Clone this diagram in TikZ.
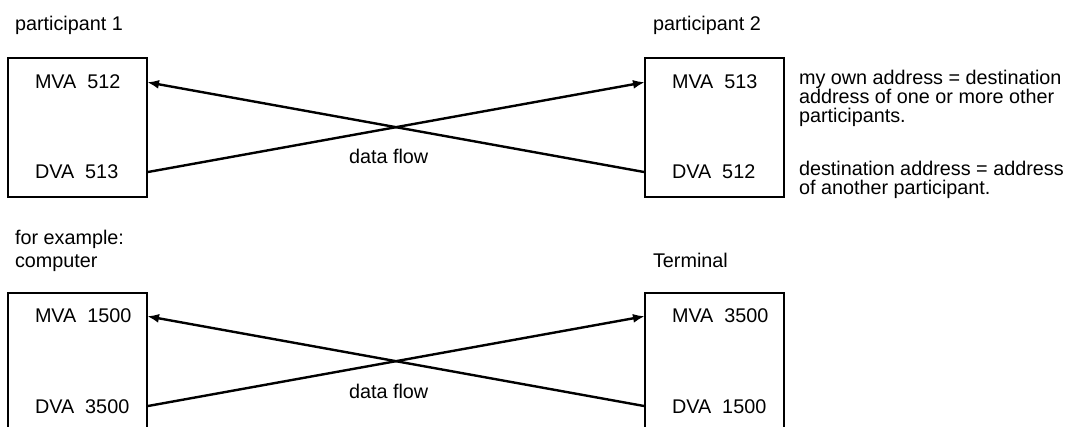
\documentclass[tikz,border=0pt]{standalone}
\usepackage{fontspec}
\setmainfont{Liberation Sans}
\usetikzlibrary{arrows.meta}
\begin{document}
\begin{tikzpicture}[x=1pt,y=-1pt,
  every node/.style={inner sep=0pt, outer sep=0pt, font=\fontsize{19.8}{19}\selectfont},
  box/.style={draw, line width=2.5pt, minimum width=139pt, minimum height=139pt},
  lbl/.style={anchor=base west},
  flow/.style={line width=2.4pt},
  arr/.style={flow, -{Latex[length=12pt,width=9pt]}}]
\clip (0,0) rectangle (1070,427);
\fill[white] (0,0) rectangle (1070,427);
% top row
\node[lbl] (t1) at (15,31) {participant 1};
\node[lbl] (t2) at (653,31) {participant 2};
\node[box] (b1) at (77.5,127.5) {};
\node[box] (b2) at (714.5,127.5) {};
\node[lbl] (m1) at (35,89) {MVA~~512};
\node[lbl] (d1) at (35,179) {DVA~~513};
\node[lbl] (m2) at (672,89) {MVA~~513};
\node[lbl] (d2) at (672,179) {DVA~~512};
\node[lbl] (f1) at (349,164) {data flow};
\draw[arr] (b2.west |- d2.center) -- (b1.east |- m1.center);
\draw[arr] (b1.east |- d1.center) -- (b2.west |- m2.center);
% notes
\node[lbl] (n1) at (799,85) {my own address = destination};
\node[lbl] (n2) at (799,104) {address of one or more other};
\node[lbl] (n3) at (799,123) {participants.};
\node[lbl] (n4) at (799,176) {destination address = address};
\node[lbl] (n5) at (799,195) {of another participant.};
% bottom row
\node[lbl] (t3) at (15,245) {for example:};
\node[lbl] (t4) at (15,268) {computer};
\node[lbl] (t5) at (653,268) {Terminal};
\node[box] (b3) at (77.5,362.5) {};
\node[box] (b4) at (714.5,362.5) {};
\node[lbl] (m3) at (35,323) {MVA~~1500};
\node[lbl] (d3) at (35,413) {DVA~~3500};
\node[lbl] (m4) at (672,323) {MVA~~3500};
\node[lbl] (d4) at (672,413) {DVA~~1500};
\node[lbl] (f2) at (349,398) {data flow};
\draw[arr] (b4.west |- d4.center) -- (b3.east |- m3.center);
\draw[arr] (b3.east |- d3.center) -- (b4.west |- m4.center);
\end{tikzpicture}
\end{document}
